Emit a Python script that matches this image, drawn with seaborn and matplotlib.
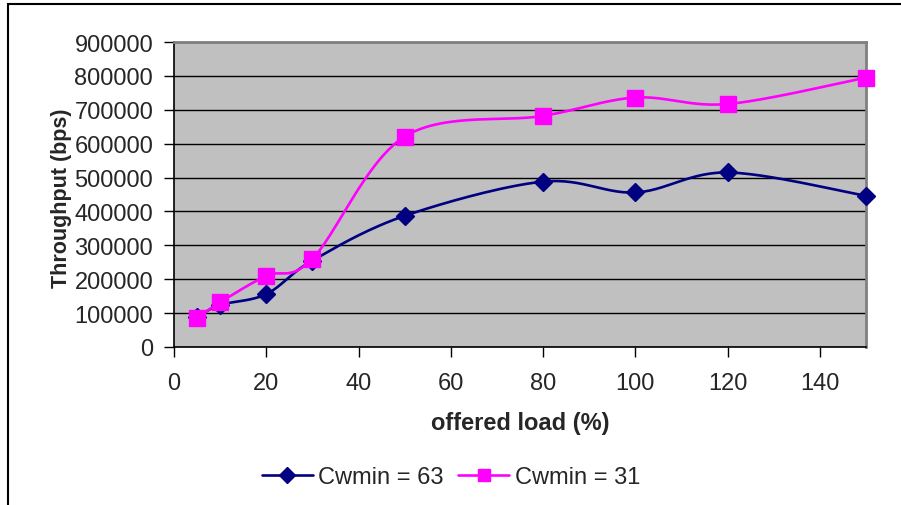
import numpy as np
import pandas as pd
import matplotlib
matplotlib.use("Agg")
import matplotlib.pyplot as plt
import seaborn as sns
from matplotlib.lines import Line2D
from matplotlib.patches import Rectangle

# ---- data ----
offered_load = [5, 10, 20, 30, 50, 80, 100, 120, 150]
cw63 = [88000, 124000, 156000, 255000, 387000, 488000, 456000, 515000, 446000]
cw31 = [85000, 132000, 210000, 260000, 621000, 682000, 736000, 717000, 795000]
series_names = ["Cwmin = 63", "Cwmin = 31"]
x_ticks = [0, 20, 40, 60, 80, 100, 120, 140]
y_ticks = [0, 100000, 200000, 300000, 400000, 500000, 600000, 700000, 800000, 900000]

sns.set_theme(style="white")
plt.rcParams["font.family"] = ["Liberation Sans", "DejaVu Sans"]

fig = plt.figure(figsize=(9.01, 5.06), dpi=100)
ax = fig.add_axes([174 / 901, 1 - 348 / 506, (866 - 174) / 901, (348 - 43) / 506])
ax.set_facecolor("#C0C0C0")


def smooth(xs, ys, n=30):
    """Excel-like smoothed curve (Catmull-Rom style Bezier through the points)."""
    xs = np.asarray(xs, float)
    ys = np.asarray(ys, float)
    px, py = [], []
    m = len(xs)
    for i in range(m - 1):
        x0, y0 = (xs[i - 1], ys[i - 1]) if i > 0 else (xs[i], ys[i])
        x1, y1 = xs[i], ys[i]
        x2, y2 = xs[i + 1], ys[i + 1]
        x3, y3 = (xs[i + 2], ys[i + 2]) if i + 2 < m else (xs[i + 1], ys[i + 1])
        c1x, c1y = x1 + (x2 - x0) / 6, y1 + (y2 - y0) / 6
        c2x, c2y = x2 - (x3 - x1) / 6, y2 - (y3 - y1) / 6
        t = np.linspace(0, 1, n, endpoint=(i == m - 2))
        b0 = (1 - t) ** 3
        b1 = 3 * (1 - t) ** 2 * t
        b2 = 3 * (1 - t) * t ** 2
        b3 = t ** 3
        px.append(b0 * x1 + b1 * c1x + b2 * c2x + b3 * x2)
        py.append(b0 * y1 + b1 * c1y + b2 * c2y + b3 * y2)
    return np.concatenate(px), np.concatenate(py)


colors = ["#000080", "#FF00FF"]
markers = ["D", "s"]
msizes = [9, 11]
for vals, name, col, mk, ms in zip([cw63, cw31], series_names, colors, markers, msizes):
    sx, sy = smooth(offered_load, vals)
    sns.lineplot(x=sx, y=sy, ax=ax, color=col, linewidth=1.9, sort=False,
                 estimator=None, zorder=3)
    df = pd.DataFrame({"x": offered_load, "y": vals})
    ax.plot(df["x"], df["y"], linestyle="none", marker=mk, markersize=ms,
            color=col, markeredgecolor=col, zorder=4, clip_on=False)

ax.set_xlim(0, 150)
ax.set_ylim(0, 900000)
ax.set_xticks(x_ticks)
ax.set_yticks(y_ticks)
ax.set_xticklabels([str(v) for v in x_ticks], fontsize=17)
ax.set_yticklabels([str(v) for v in y_ticks], fontsize=17)
ax.tick_params(axis="both", direction="out", length=7, width=1, color="black",
               pad=8, bottom=True, left=True)
ax.tick_params(axis="x", pad=11)
ax.yaxis.grid(True, color="black", linewidth=1)
ax.xaxis.grid(False)
ax.set_axisbelow(True)

for side in ["left", "bottom"]:
    ax.spines[side].set_color("black")
    ax.spines[side].set_linewidth(1.2)
for side in ["top", "right"]:
    ax.spines[side].set_color("#808080")
    ax.spines[side].set_linewidth(2)

ax.set_xlabel("offered load (%)", fontsize=17, fontweight="bold", labelpad=12)
ax.set_ylabel("Throughput (bps)", fontsize=15.5, fontweight="bold")
ax.yaxis.set_label_coords((72 - 174) / 692, 0.49)

handles = [Line2D([0], [0], color=c, marker=m, markersize=s * 0.85, linewidth=1.9)
           for c, m, s in zip(colors, markers, msizes)]
fig.legend(handles, series_names, loc="center", bbox_to_anchor=(451 / 901, 1 - 478 / 506),
           ncol=2, frameon=False, fontsize=17, handlelength=2.15, columnspacing=0.6,
           handletextpad=0.25)

# outer chart border
fig.patches.append(Rectangle((8 / 901, -0.1), 1.0, 1 - 4.5 / 506 + 0.1,
                             transform=fig.transFigure, fill=False,
                             edgecolor="black", linewidth=1.5))

fig.savefig("out.png", dpi=100)
